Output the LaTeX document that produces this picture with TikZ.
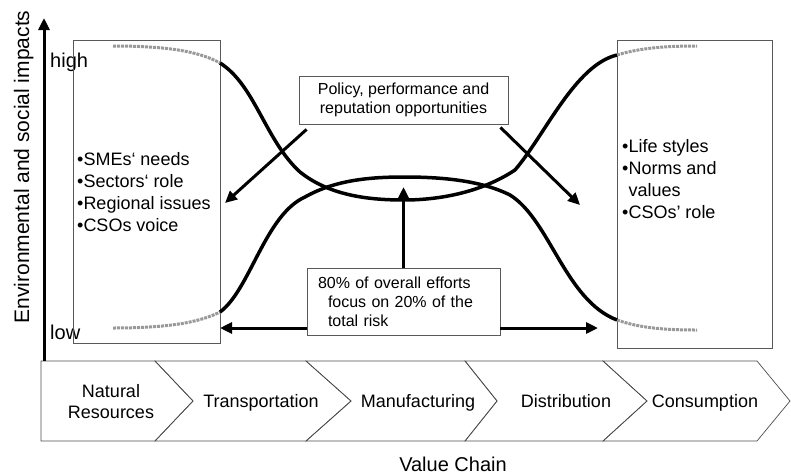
\documentclass[tikz,border=0pt]{standalone}
\usepackage{fontspec}
\setmainfont{Liberation Sans}
\usetikzlibrary{arrows.meta}

\begin{document}
\begin{tikzpicture}
  [x=1pt,y=-1pt,
   panel/.style={draw=black!65,line width=0.8pt,rectangle},
   note/.style={draw=black!65,line width=0.8pt,fill=white,font=\fontsize{16}{19}\selectfont},
   body/.style={font=\fontsize{18}{22}\selectfont,align=left,inner sep=0pt},
   stage/.style={font=\fontsize{18}{21}\selectfont,align=center,inner sep=0pt},
   chain/.style={draw=black!70,line width=0.7pt},
   curve/.style={line width=3.5pt},
   tail/.style={line width=3pt,draw=black!40,dash pattern=on 3pt off 1pt},
   arr/.style={line width=3pt,-{Triangle[length=12pt,width=11pt]}}]
  \useasboundingbox (0,0) rectangle (791,474);

  % value chain
  \foreach \a/\b/\c/\d in {41/41/155/193,155/193/306/351,306/351/465/497,465/497/603/647,603/647/757/790}
    \draw[chain] (\a,361) -- (\c,361) -- (\d,401) -- (\c,441) -- (\a,441) -- (\b,401) -- cycle;
  \node[stage] (natres) at (111,402) {Natural\\Resources};
  \foreach \x/\n/\t in {261/transport/Transportation,418/manufact/Manufacturing,566/distrib/Distribution,705/consump/Consumption}
    \node[stage,anchor=base] (\n) at (\x,407) {\t};
  \node[font=\fontsize{20}{24}\selectfont] (vchain) at (453,464) {Value Chain};

  % axis
  \coordinate (origin) at (44,361);
  \coordinate (ytop) at (44,18);
  \draw[arr] (origin) -- (ytop);
  \node[font=\fontsize{21}{24}\selectfont,rotate=90,anchor=base] (ylab) at (29,167) {Environmental and social impacts};
  \node[font=\fontsize{20}{24}\selectfont,anchor=base west,inner sep=0pt] (high) at (50,67) {high};
  \node[font=\fontsize{20}{24}\selectfont,anchor=base west,inner sep=0pt] (low) at (50,339) {low};

  % side boxes
  \node[panel,minimum width=147pt,minimum height=303pt] (leftbox) at (146.5,191.5) {};
  \node[body,anchor=north west] (leftlist) at (77,152) {•SMEs‘ needs\\•Sectors‘ role\\•Regional issues\\•CSOs voice};
  \node[panel,minimum width=155pt,minimum height=308pt] (rightbox) at (694.5,194) {};
  \node[body,anchor=north west] (rightlist) at (622,139) {•Life styles\\•Norms and\\\hphantom{•}values\\•CSOs’ role};

  % curves
  \coordinate (hiL) at (220,63);   \coordinate (hiLend) at (113,46);
  \coordinate (loL) at (220,312);  \coordinate (loLend) at (113,328);
  \coordinate (hiR) at (617,55);   \coordinate (hiRend) at (697,46);
  \coordinate (loR) at (617,320);  \coordinate (loRend) at (697,330);
  \coordinate (trough) at (404,200);
  \coordinate (crest) at (404,177);
  \draw[tail] (hiLend) .. controls (170,46) and (200,52) .. (hiL);
  \draw[tail] (loLend) .. controls (170,328) and (200,322) .. (loL);
  \draw[tail] (hiR) .. controls (640,48) and (665,46) .. (hiRend);
  \draw[tail] (loR) .. controls (640,328) and (665,330) .. (loRend);
  \draw[curve] (hiL) .. controls (255,85) and (265,140) .. (300,172) .. controls (330,196) and (370,200) .. (trough)
    .. controls (440,200) and (482,192) .. (515,170) .. controls (545,135) and (575,65) .. (hiR);
  \draw[curve] (loL) .. controls (250,290) and (265,215) .. (305,197) .. controls (335,180) and (370,177) .. (crest)
    .. controls (440,177) and (480,180) .. (510,195) .. controls (550,220) and (565,300) .. (loR);

  % notes and arrows
  \node[note,minimum width=209pt,minimum height=48pt,align=center] (policy) at (403.5,100) {Policy, performance and\\reputation opportunities};
  \node[note,text width=171pt,inner xsep=11pt,minimum height=67pt,align=left] (focus) at (403.5,301.5)
    {80\% of overall efforts\\\hspace*{10pt}focus on 20\% of the\\\hspace*{10pt}total risk};
  \coordinate (lensmid) at (403.5,187);
  \coordinate (toL) at (220,328);
  \coordinate (toR) at (598,328);
  \coordinate (polL) at (225,203);
  \coordinate (polR) at (580,205);
  \draw[arr] (focus) -- (lensmid);
  \draw[arr] (focus.west |- toL) -- (toL);
  \draw[arr] (focus.east |- toR) -- (toR);
  \draw[arr] ([xshift=8pt,yshift=-5pt]policy.south west) -- (polL);
  \draw[arr] ([xshift=-8pt,yshift=-3pt]policy.south east) -- (polR);
\end{tikzpicture}
\end{document}
